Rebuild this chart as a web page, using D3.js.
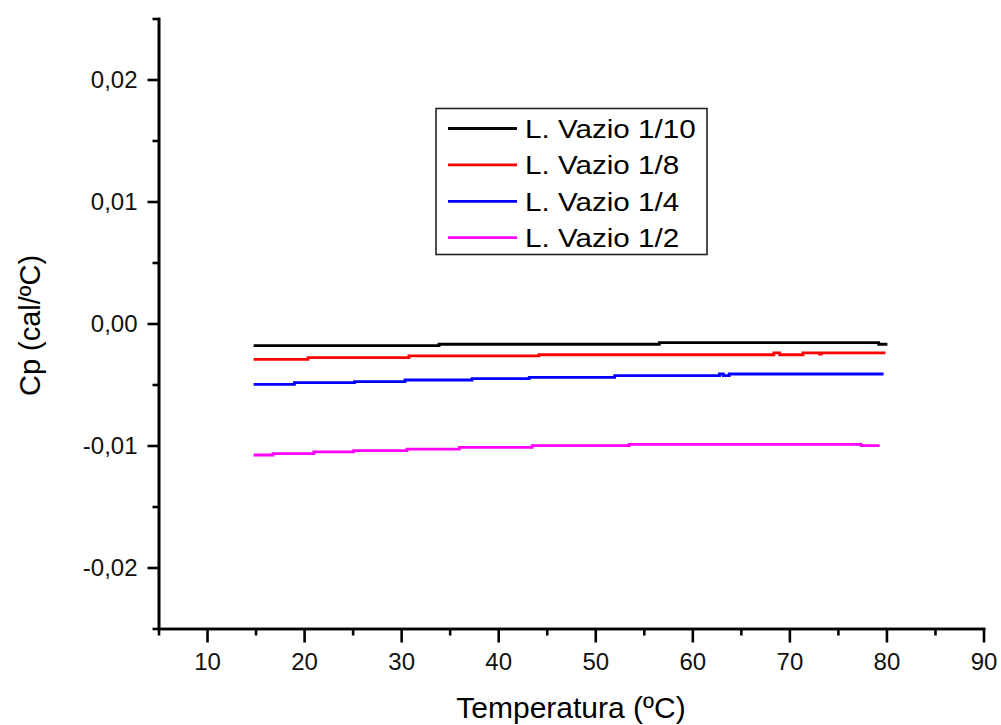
<!DOCTYPE html>
<html>
<head>
<meta charset="utf-8">
<script src="https://cdn.jsdelivr.net/npm/d3@7"></script>
<style>
  html, body { margin: 0; padding: 0; background: #fff; }
  svg { display: block; font-family: Arial, "Liberation Sans", sans-serif; }
</style>
</head>
<body>
<svg id="chart" width="1001" height="725"></svg>
<script>
// Cp readings, one list per empty-load ratio: [temperature ºC, Cp cal/ºC].
// Each reading holds until the next one (step trace).
const vazio10 = [[14.8, -0.00182], [33.9, -0.00170], [56.6, -0.00157], [79.2, -0.00170], [80.1, -0.00170]];
const vazio8  = [[14.8, -0.00294], [20.4, -0.00280], [30.8, -0.00266], [44.2, -0.00256], [68.4, -0.00240],
                 [69.0, -0.00256], [71.4, -0.00240], [73.1, -0.00250], [73.3, -0.00240], [79.9, -0.00240]];
const vazio4  = [[14.8, -0.00499], [19.0, -0.00485], [25.2, -0.00477], [30.4, -0.00463], [37.3, -0.00452],
                 [43.2, -0.00441], [52.0, -0.00428], [62.8, -0.00414], [63.2, -0.00428], [63.8, -0.00414],
                 [79.7, -0.00414]];
const vazio2  = [[14.8, -0.01078], [16.8, -0.01067], [21.0, -0.01053], [25.1, -0.01042], [30.6, -0.01029],
                 [36.0, -0.01015], [43.5, -0.01001], [53.5, -0.00990], [77.4, -0.01001], [79.3, -0.01001]];

const seriesNames  = ["L. Vazio 1/10", "L. Vazio 1/8", "L. Vazio 1/4", "L. Vazio 1/2"];
const seriesColors = ["#000000", "#ff0000", "#0000ff", "#ff00ff"];
const seriesData   = [vazio10, vazio8, vazio4, vazio2];

const xMajorTicks = [10, 20, 30, 40, 50, 60, 70, 80, 90];
const xMinorTicks = [5, 15, 25, 35, 45, 55, 65, 75, 85];
const yMajorTicks = [-0.02, -0.01, 0.00, 0.01, 0.02];
const yMinorTicks = [-0.025, -0.015, -0.005, 0.005, 0.015, 0.025];

const xTitle = "Temperatura (ºC)";
const yTitle = "Cp (cal/ºC)";

// ---- layout ----
const plotLeft = 158.5, plotRight = 983.5, plotTop = 18.5, plotBottom = 628.5;
const svg = d3.select("#chart");

const x = d3.scaleLinear().domain([5, 90]).range([plotLeft, plotRight]);
const y = d3.scaleLinear().domain([-0.025, 0.025]).range([plotBottom, plotTop]);

const ptBR = d3.formatLocale({decimal: ",", thousands: ".", grouping: [3], currency: ["", ""], minus: "-"});
const yFmt = ptBR.format(".2f");

const axisStroke = 2.6;

function styleAxis(g) {
  g.selectAll("path.domain").attr("stroke", "#000").attr("stroke-width", axisStroke);
  g.selectAll(".tick line").attr("stroke", "#000").attr("stroke-width", axisStroke);
}

// x axis: minor ticks, then labelled major ticks
svg.append("g")
  .attr("transform", `translate(0,${plotBottom})`)
  .call(d3.axisBottom(x).tickValues(xMinorTicks).tickSize(7).tickSizeOuter(0).tickFormat(""))
  .call(styleAxis);
const gx = svg.append("g")
  .attr("transform", `translate(0,${plotBottom})`)
  .call(d3.axisBottom(x).tickValues(xMajorTicks).tickSize(14).tickSizeOuter(0).tickPadding(8))
  .call(styleAxis);
gx.selectAll(".tick text")
  .attr("font-size", 24).attr("fill", "#111")
  .attr("font-family", "Arial, 'Liberation Sans', sans-serif")
  .attr("dy", null).attr("y", 41);

// y axis
svg.append("g")
  .attr("transform", `translate(${plotLeft},0)`)
  .call(d3.axisLeft(y).tickValues(yMinorTicks).tickSize(6).tickSizeOuter(0).tickFormat(""))
  .call(styleAxis);
const gy = svg.append("g")
  .attr("transform", `translate(${plotLeft},0)`)
  .call(d3.axisLeft(y).tickValues(yMajorTicks).tickSize(11).tickSizeOuter(0).tickFormat(yFmt))
  .call(styleAxis);
gy.selectAll(".tick text")
  .attr("font-size", 24).attr("fill", "#111")
  .attr("font-family", "Arial, 'Liberation Sans', sans-serif")
  .attr("x", -21).attr("dy", "0.35em");

svg.selectAll("path.domain").attr("stroke-linecap", "square");

// ---- series ----
const line = d3.line()
  .x(d => x(d[0]))
  .y(d => y(d[1]))
  .curve(d3.curveStepAfter);

svg.append("g").selectAll("path.series")
  .data(seriesData)
  .join("path")
  .attr("class", "series")
  .attr("d", line)
  .attr("fill", "none")
  .attr("stroke", (d, i) => seriesColors[i])
  .attr("stroke-width", 2.8);

// ---- legend ----
const lg = svg.append("g").attr("transform", "translate(436,108.5)");
lg.append("rect")
  .attr("width", 271).attr("height", 146)
  .attr("fill", "#fff").attr("stroke", "#222").attr("stroke-width", 1.6);
const rows = lg.selectAll("g.row")
  .data(seriesNames)
  .join("g")
  .attr("class", "row")
  .attr("transform", (d, i) => `translate(0,${20 + i * 36.4})`);
rows.append("line")
  .attr("x1", 12).attr("x2", 81)
  .attr("stroke", (d, i) => seriesColors[i])
  .attr("stroke-width", 2.8);
rows.append("text")
  .attr("x", 0).attr("y", 0)
  .attr("dy", "0.36em")
  .attr("font-size", 26)
  .attr("fill", "#000")
  .attr("transform", "translate(89,0) scale(1.14,1)")
  .text(d => d);

// ---- axis titles ----
svg.append("text")
  .attr("x", (plotLeft + plotRight) / 2).attr("y", 718)
  .attr("text-anchor", "middle")
  .attr("font-size", 30)
  .attr("fill", "#000")
  .text(xTitle);

svg.append("text")
  .attr("transform", `translate(40,${(plotTop + plotBottom) / 2 + 2}) rotate(-90)`)
  .attr("text-anchor", "middle")
  .attr("font-size", 29)
  .attr("fill", "#000")
  .text(yTitle);
</script>
</body>
</html>
